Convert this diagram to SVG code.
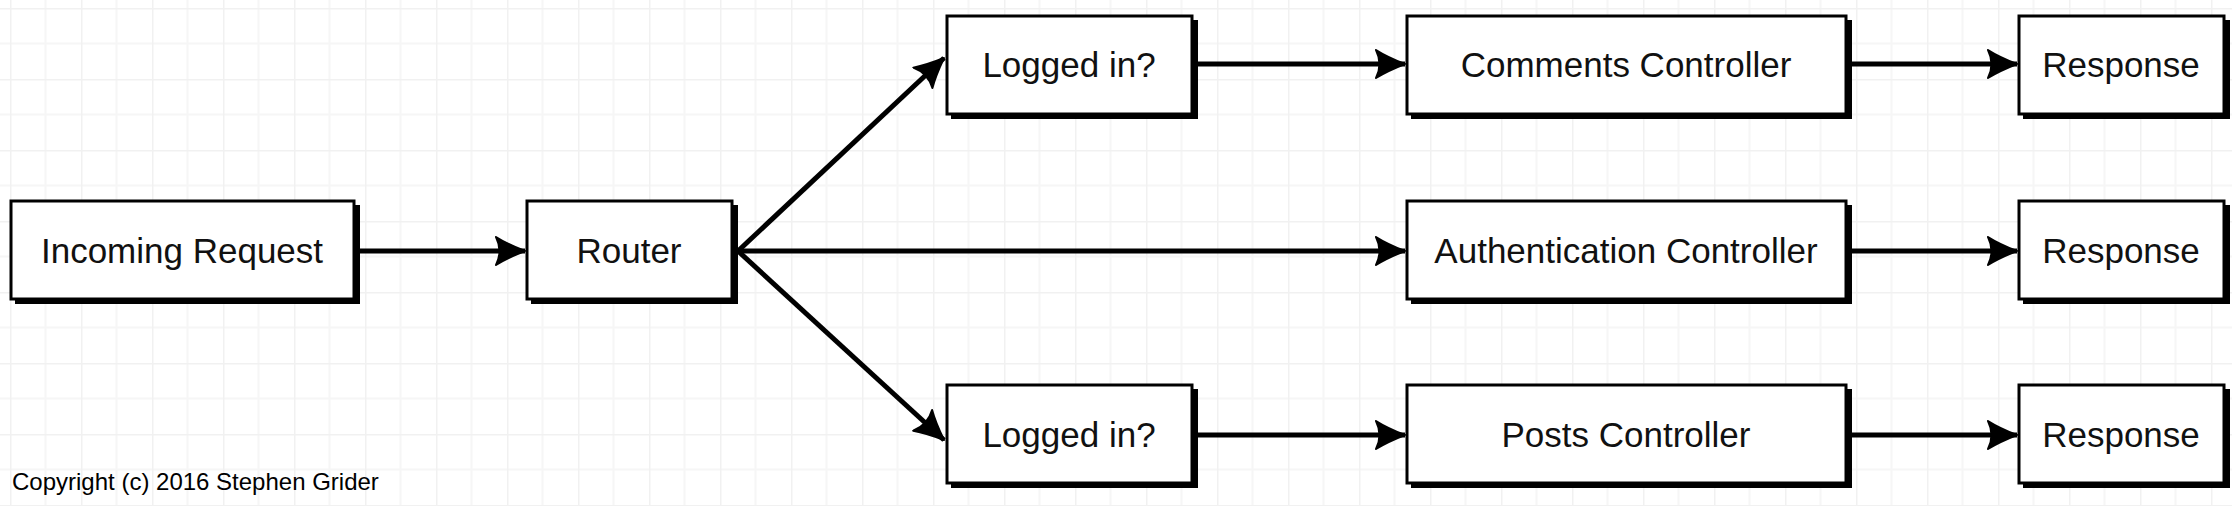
<svg xmlns="http://www.w3.org/2000/svg" width="2232" height="506" viewBox="0 0 2232 506">
  <defs>
    <pattern id="grid" x="10" y="8" width="71" height="71" patternUnits="userSpaceOnUse">
      <path d="M35.5 0 V71 M0 35.5 H71" stroke="#f6f6f6" stroke-width="2" fill="none"/>
      <path d="M0 0 V71 M0 0 H71" stroke="#f1f1f1" stroke-width="3" fill="none"/>
    </pattern>
    <marker id="arrow" markerUnits="userSpaceOnUse" markerWidth="34" markerHeight="34" refX="30" refY="16" orient="auto" viewBox="0 0 34 32">
      <path d="M1 2 Q12 9 30 16 Q12 23 1 30 Q8 16 1 2 Z" fill="#000" stroke="#000" stroke-width="2" stroke-linejoin="round"/>
    </marker>
  </defs>
  <style>
    .box { fill: #fff; stroke: #000; stroke-width: 3; }
    .shadow { fill: #000; }
    .label { font-family: "Liberation Sans", Arial, sans-serif; font-size: 35px; fill: #111; text-anchor: middle; }
    .edge { stroke: #000; stroke-width: 5; fill: none; marker-end: url(#arrow); }
    .copy { font-family: "Liberation Sans", Arial, sans-serif; font-size: 24px; fill: #000; }
  </style>
  <rect width="2232" height="506" fill="#fff"/>
  <rect width="2232" height="506" fill="url(#grid)"/>

  <g id="connectors">
    <line class="edge" x1="358" y1="251" x2="525" y2="251"/>
    <line class="edge" x1="738" y1="251" x2="944" y2="58"/>
    <line class="edge" x1="738" y1="251" x2="1405" y2="251"/>
    <line class="edge" x1="738" y1="251" x2="944" y2="440"/>
    <line class="edge" x1="1198" y1="64" x2="1405" y2="64"/>
    <line class="edge" x1="1198" y1="435" x2="1405" y2="435"/>
    <line class="edge" x1="1852" y1="64" x2="2017" y2="64"/>
    <line class="edge" x1="1852" y1="251" x2="2017" y2="251"/>
    <line class="edge" x1="1852" y1="435" x2="2017" y2="435"/>
  </g>

  <g id="incoming">
    <rect class="shadow" x="15" y="205" width="345" height="99"/>
    <rect class="box" x="11" y="201" width="343" height="98"/>
    <text class="label" x="182" y="263">Incoming Request</text>
  </g>
  <g id="router">
    <rect class="shadow" x="531" y="205" width="207" height="99"/>
    <rect class="box" x="527" y="201" width="205" height="98"/>
    <text class="label" x="629" y="263">Router</text>
  </g>
  <g id="logged-in-top">
    <rect class="shadow" x="951" y="20" width="247" height="99"/>
    <rect class="box" x="947" y="16" width="245" height="98"/>
    <text class="label" x="1069" y="77">Logged in?</text>
  </g>
  <g id="comments-controller">
    <rect class="shadow" x="1411" y="20" width="441" height="99"/>
    <rect class="box" x="1407" y="16" width="439" height="98"/>
    <text class="label" x="1626" y="77">Comments Controller</text>
  </g>
  <g id="response-top">
    <rect class="shadow" x="2023" y="20" width="207" height="99"/>
    <rect class="box" x="2019" y="16" width="205" height="98"/>
    <text class="label" x="2121" y="77">Response</text>
  </g>
  <g id="auth-controller">
    <rect class="shadow" x="1411" y="205" width="441" height="99"/>
    <rect class="box" x="1407" y="201" width="439" height="98"/>
    <text class="label" x="1626" y="263">Authentication Controller</text>
  </g>
  <g id="response-mid">
    <rect class="shadow" x="2023" y="205" width="207" height="99"/>
    <rect class="box" x="2019" y="201" width="205" height="98"/>
    <text class="label" x="2121" y="263">Response</text>
  </g>
  <g id="logged-in-bottom">
    <rect class="shadow" x="951" y="389" width="247" height="99"/>
    <rect class="box" x="947" y="385" width="245" height="98"/>
    <text class="label" x="1069" y="447">Logged in?</text>
  </g>
  <g id="posts-controller">
    <rect class="shadow" x="1411" y="389" width="441" height="99"/>
    <rect class="box" x="1407" y="385" width="439" height="98"/>
    <text class="label" x="1626" y="447">Posts Controller</text>
  </g>
  <g id="response-bottom">
    <rect class="shadow" x="2023" y="389" width="207" height="99"/>
    <rect class="box" x="2019" y="385" width="205" height="98"/>
    <text class="label" x="2121" y="447">Response</text>
  </g>

  <text class="copy" x="12" y="490">Copyright (c) 2016 Stephen Grider</text>
</svg>
